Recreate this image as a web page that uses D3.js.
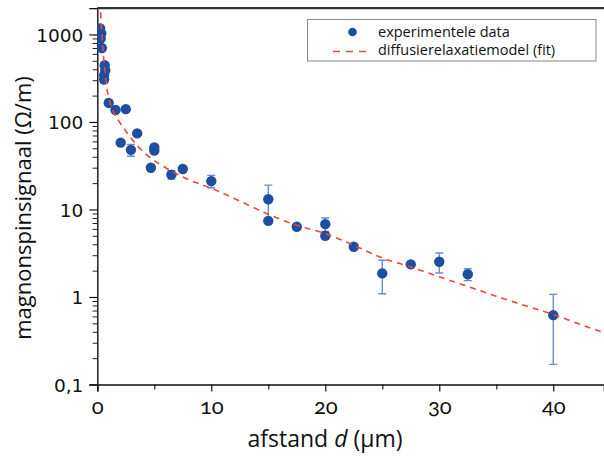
<!DOCTYPE html>
<html>
<head>
<meta charset="utf-8">
<script src="https://cdn.jsdelivr.net/npm/d3@7"></script>
<style>
  body { margin: 0; background: #fff; }
  svg { display: block; }
</style>
</head>
<body>
<script>
// Measured points: distance (um), signal (Ohm/m), error (0 = no bar drawn)
const distances = [0.25, 0.35, 0.3, 0.4, 0.65, 0.7, 0.6, 0.6, 1.0, 1.6, 2.5, 3.5, 2.05, 2.95,
                   5.0, 5.0, 4.7, 6.5, 7.5, 10, 15, 15, 17.5, 20, 20, 22.5, 25, 27.5, 30, 32.5, 40];
const signal = [1170, 1030, 900, 700, 446, 390, 343, 306, 165, 137, 140, 74, 58, 48,
                51, 47, 30, 25, 29, 21.1, 13.1, 7.4, 6.35, 6.8, 5.0, 3.75, 1.86, 2.36, 2.53, 1.82, 0.62];
const errors = [0, 0, 0, 0, 0, 0, 0, 0, 0, 0, 0, 0, 0, 7.5,
                1.5, 1.5, 0, 2.8, 0, 3.4, 5.9, 0, 0.3, 1.2, 0.3, 0, 0.77, 0, 0.65, 0.28, 0.45];

// Fit curve
const fitDistances = [0.25, 0.3, 0.4, 0.53, 0.7, 0.85, 1.1, 1.4, 1.84, 2.43, 3.6, 4.77, 6, 8, 10,
                      12.5, 15, 17.5, 20, 22.5, 25, 27.5, 30, 32.5, 35, 37.5, 40, 42.5, 44.45];
const fitSignal = [2400, 1700, 1000, 590, 350, 240, 170, 132, 105, 81, 52, 38, 30, 22, 17.5,
                   12.5, 8.8, 6.6, 5.3, 3.9, 2.8, 2.2, 1.7, 1.32, 1.02, 0.8, 0.63, 0.48, 0.39];

// Tick labels
const xTicks = [0, 10, 20, 30, 40];
const xMinorTicks = [5, 15, 25, 35];
const yTicks = [0.1, 1, 10, 100, 1000];

const legendLabels = ["experimentele data", "diffusierelaxatiemodel (fit)"];

const WIDTH = 604;
const HEIGHT = 457;
const DOT = "#1f4ea1";
const ERR = "#6b8dd0";
const FIT = "#e8473b";

/**
 * Scales: linear distance, log signal
 */
const plotLeft = 97.3, plotRight = 604, plotTop = 8.1, plotBottom = 384.5;

const x = d3.scaleLinear().domain([0, 44.45]).range([plotLeft, plotRight]);
const y = d3.scaleLog().domain([0.1, 2000]).range([plotBottom, plotTop]);

const svg = d3.select("body").append("svg")
    .attr("width", WIDTH)
    .attr("height", HEIGHT);

svg.append("clipPath").attr("id", "plot-clip")
    .append("rect")
    .attr("x", plotLeft).attr("y", plotTop)
    .attr("width", plotRight - plotLeft).attr("height", plotBottom - plotTop);

/** Minor y ticks for every decade, 2..9 */
const yMinor = [];
for (let p = -1; p <= 3; p++) {
    for (let k = 2; k <= 9; k++) {
        let v = k * Math.pow(10, p);
        if (v <= 2000) yMinor.push(v);
    }
}

const comma = d3.formatLocale({decimal: ",", thousands: "", grouping: [3], currency: ["", ""]}).format("~g");

svg.append("g")
    .attr("transform", `translate(${plotLeft},0)`)
    .call(d3.axisLeft(y).tickValues(yMinor).tickSize(4.7).tickFormat(""))
    .call(g => g.select(".domain").remove())
    .selectAll("line").attr("stroke", "#222").attr("stroke-width", 1);

const yAxis = svg.append("g")
    .attr("transform", `translate(${plotLeft},0)`)
    .call(d3.axisLeft(y).tickValues(yTicks).tickSize(8).tickPadding(6).tickFormat(comma));
yAxis.select(".domain").attr("stroke", "#111").attr("stroke-width", 1.4);
yAxis.selectAll("line").attr("stroke", "#111").attr("stroke-width", 1.2);
yAxis.selectAll("text")
    .attr("font-family", "DejaVu Sans")
    .attr("font-size", 18.5)
    .attr("fill", "#111")
    .attr("dy", "0.36em");

svg.append("g")
    .attr("transform", `translate(0,${plotBottom})`)
    .call(d3.axisBottom(x).tickValues(xMinorTicks).tickSize(5).tickFormat(""))
    .call(g => g.select(".domain").remove())
    .selectAll("line").attr("stroke", "#222").attr("stroke-width", 1.2);

const xAxis = svg.append("g")
    .attr("transform", `translate(0,${plotBottom})`)
    .call(d3.axisBottom(x).tickValues(xTicks).tickSize(7).tickPadding(7).tickFormat(d3.format("d")));
xAxis.select(".domain").attr("stroke", "#111").attr("stroke-width", 1.6);
xAxis.selectAll("line").attr("stroke", "#111").attr("stroke-width", 1.2);
xAxis.selectAll("text")
    .attr("font-family", "Lato")
    .attr("font-size", 22)
    .attr("fill", "#111")
    .style("font-variant-numeric", "oldstyle-nums");

/** Top frame line */
svg.append("line")
    .attr("x1", plotLeft).attr("x2", plotRight)
    .attr("y1", plotTop).attr("y2", plotTop)
    .attr("stroke", "#333").attr("stroke-width", 2.2);

/**
 * Data: error bars, dots, fit line
 */
const points = distances.map((d, i) => ({d: d, v: signal[i], e: errors[i]}));
const plot = svg.append("g").attr("clip-path", "url(#plot-clip)");

const withErr = points.filter(p => p.e > 0);
const bars = plot.append("g").attr("stroke", ERR).attr("stroke-width", 1.4);
bars.selectAll("line.v").data(withErr).enter().append("line")
    .attr("x1", p => x(p.d)).attr("x2", p => x(p.d))
    .attr("y1", p => y(p.v - p.e)).attr("y2", p => y(p.v + p.e));
bars.selectAll("line.top").data(withErr).enter().append("line")
    .attr("x1", p => x(p.d) - 4).attr("x2", p => x(p.d) + 4)
    .attr("y1", p => y(p.v + p.e)).attr("y2", p => y(p.v + p.e));
bars.selectAll("line.bot").data(withErr).enter().append("line")
    .attr("x1", p => x(p.d) - 4).attr("x2", p => x(p.d) + 4)
    .attr("y1", p => y(p.v - p.e)).attr("y2", p => y(p.v - p.e));

plot.selectAll("circle").data(points).enter().append("circle")
    .attr("cx", p => x(p.d))
    .attr("cy", p => y(p.v))
    .attr("r", 5.2)
    .attr("fill", DOT);

const fitLine = d3.line()
    .x((d, i) => x(d))
    .y((d, i) => y(fitSignal[i]))
    .curve(d3.curveMonotoneX);

plot.append("path")
    .datum(fitDistances)
    .attr("d", fitLine)
    .attr("fill", "none")
    .attr("stroke", FIT)
    .attr("stroke-width", 1.6)
    .attr("stroke-dasharray", "6,5");

/**
 * Axis titles
 */
svg.append("text")
    .attr("transform", "translate(31,208) rotate(-90)")
    .attr("text-anchor", "middle")
    .attr("font-family", "Open Sans")
    .attr("font-size", 22)
    .attr("fill", "#111")
    .text("magnonspinsignaal (Ω/m)");

const xTitle = svg.append("text")
    .attr("x", 325)
    .attr("y", 447)
    .attr("text-anchor", "middle")
    .attr("font-family", "Open Sans")
    .attr("font-size", 23)
    .attr("fill", "#111");
xTitle.append("tspan").text("afstand ");
xTitle.append("tspan").attr("font-style", "italic").text("d");
xTitle.append("tspan").text(" (μm)");

/**
 * Legend
 */
const legend = svg.append("g");
legend.append("rect")
    .attr("x", 307.5).attr("y", 19.5)
    .attr("width", 288.5).attr("height", 41.5)
    .attr("fill", "#fff")
    .attr("stroke", "#888").attr("stroke-width", 1);
legend.append("circle")
    .attr("cx", 352.5).attr("cy", 32)
    .attr("r", 4.3)
    .attr("fill", DOT);
legend.append("line")
    .attr("x1", 333).attr("x2", 366)
    .attr("y1", 51.5).attr("y2", 51.5)
    .attr("stroke", FIT).attr("stroke-width", 1.6)
    .attr("stroke-dasharray", "7,6");
legend.selectAll("text.lbl").data(legendLabels).enter().append("text")
    .attr("x", 378)
    .attr("y", (d, i) => 37 + i * 17.5)
    .attr("font-family", "Open Sans")
    .attr("font-size", 14.5)
    .attr("fill", "#111")
    .text(d => d);
</script>
</body>
</html>
